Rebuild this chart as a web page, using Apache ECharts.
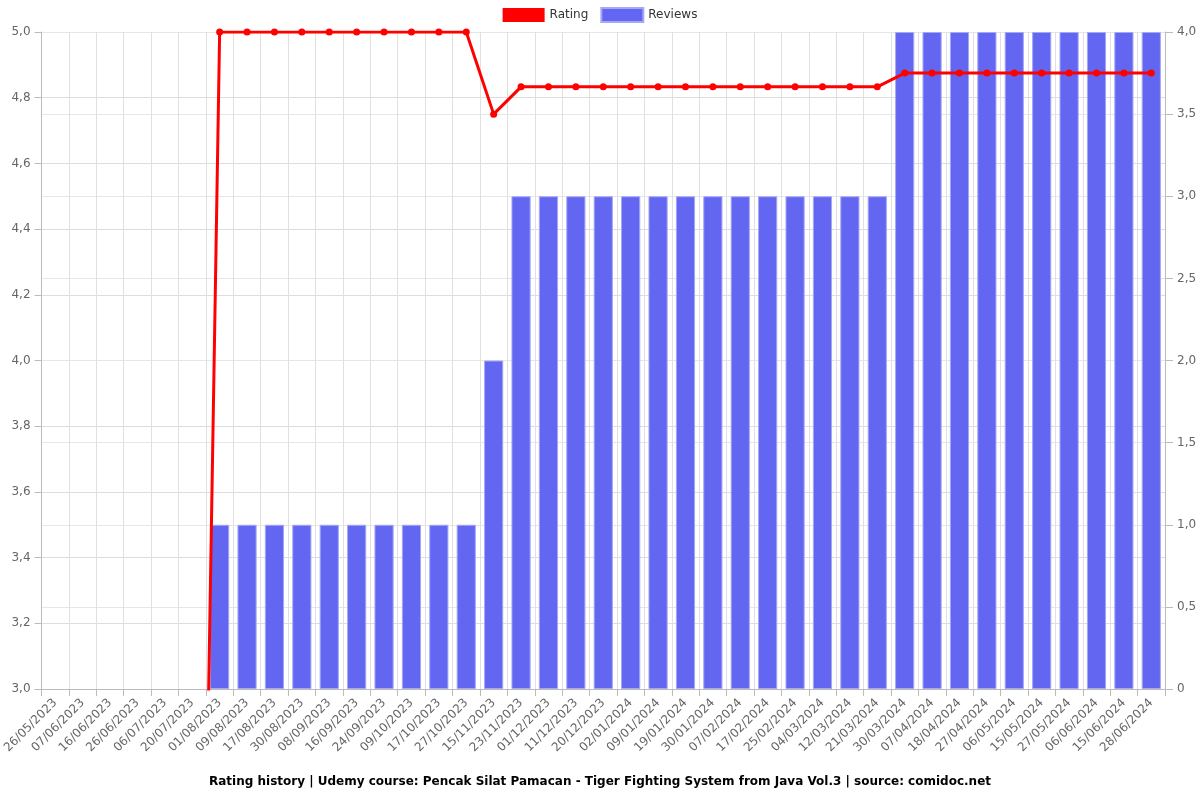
<!DOCTYPE html>
<html>
<head>
<meta charset="utf-8">
<script src="https://cdn.jsdelivr.net/npm/echarts@6/dist/echarts.min.js"></script>
<style>html,body{margin:0;padding:0;background:#fff}#c{width:1200px;height:800px}</style>
</head>
<body>
<div id="c"></div>
<script>
const categories = ["26/05/2023","07/06/2023","16/06/2023","26/06/2023","06/07/2023","20/07/2023","01/08/2023","09/08/2023","17/08/2023","30/08/2023","08/09/2023","16/09/2023","24/09/2023","09/10/2023","17/10/2023","27/10/2023","15/11/2023","23/11/2023","01/12/2023","11/12/2023","20/12/2023","02/01/2024","09/01/2024","19/01/2024","30/01/2024","07/02/2024","17/02/2024","25/02/2024","04/03/2024","12/03/2024","21/03/2024","30/03/2024","07/04/2024","18/04/2024","27/04/2024","06/05/2024","15/05/2024","27/05/2024","06/06/2024","15/06/2024","28/06/2024"];
const ratingValues = [0,0,0,0,0,0,5,5,5,5,5,5,5,5,5,5,4.75,4.833,4.833,4.833,4.833,4.833,4.833,4.833,4.833,4.833,4.833,4.833,4.833,4.833,4.833,4.875,4.875,4.875,4.875,4.875,4.875,4.875,4.875,4.875,4.875];
const reviewValues = [0,0,0,0,0,0,1,1,1,1,1,1,1,1,1,1,2,3,3,3,3,3,3,3,3,3,3,3,3,3,3,4,4,4,4,4,4,4,4,4,4];
const titleText = "Rating history | Udemy course: Pencak Silat Pamacan - Tiger Fighting System from Java Vol.3 | source: comidoc.net";

const fmt = v => v === 0 ? "0" : v.toFixed(1).replace('.', ',');
const chart = echarts.init(document.getElementById('c'), null, {renderer: 'canvas'});
const font = 'DejaVu Sans';
chart.setOption({
  animation: false,
  textStyle: {fontFamily: font},
  title: {
    text: titleText, left: 'center', top: 771,
    textStyle: {fontFamily: font, fontSize: 12, fontWeight: 'bold', color: '#000'}
  },
  legend: {
    top: 2, left: 'center', itemWidth: 42, itemHeight: 14, itemGap: 12,
    textStyle: {fontFamily: font, fontSize: 12, color: '#333'},
    data: [{name: 'Rating', icon: 'rect'}, {name: 'Reviews', icon: 'rect'}]
  },
  grid: {left: 38, right: 35, top: 32, bottom: 111, containLabel: false},
  xAxis: {
    type: 'category', data: categories, boundaryGap: true,
    axisLine: {lineStyle: {color: '#bbb'}},
    axisTick: {show: true, alignWithLabel: false, lineStyle: {color: '#bbb'}, length: 7},
    axisLabel: {rotate: 45, fontFamily: font, fontSize: 12, color: '#666', interval: 0, margin: 12},
    splitLine: {show: true, lineStyle: {color: '#e0e0e0'}}
  },
  yAxis: [
    {
      type: 'value', min: 3, max: 5, interval: 0.2, position: 'left',
      axisLine: {show: true, lineStyle: {color: '#bbb'}},
      axisTick: {show: true, length: 7, lineStyle: {color: '#bbb'}},
      axisLabel: {formatter: v => v.toFixed(1).replace('.', ','), fontFamily: font, fontSize: 12, color: '#666', margin: 11},
      splitLine: {show: true, lineStyle: {color: '#ddd'}}
    },
    {
      type: 'value', min: 0, max: 4, interval: 0.5, position: 'right',
      axisLine: {show: true, lineStyle: {color: '#bbb'}},
      axisTick: {show: true, length: 8, lineStyle: {color: '#bbb'}},
      axisLabel: {formatter: fmt, fontFamily: font, fontSize: 12, color: '#666', margin: 12},
      splitLine: {show: true, lineStyle: {color: '#e6e6e6'}}
    }
  ],
  series: [
    {
      name: 'Rating', type: 'line', yAxisIndex: 0, data: ratingValues, z: 5,
      symbol: 'circle', symbolSize: 7, clip: true,
      lineStyle: {color: '#ff0000', width: 3},
      itemStyle: {color: '#ff0000'}
    },
    {
      name: 'Reviews', type: 'bar', yAxisIndex: 1, z: 2,
      data: reviewValues.map(v => v === 0 ? '-' : v),
      barWidth: '70%',
      itemStyle: {color: '#6366f1', borderColor: '#a5a8f5', borderWidth: 1}
    }
  ]
});
</script>
</body>
</html>
